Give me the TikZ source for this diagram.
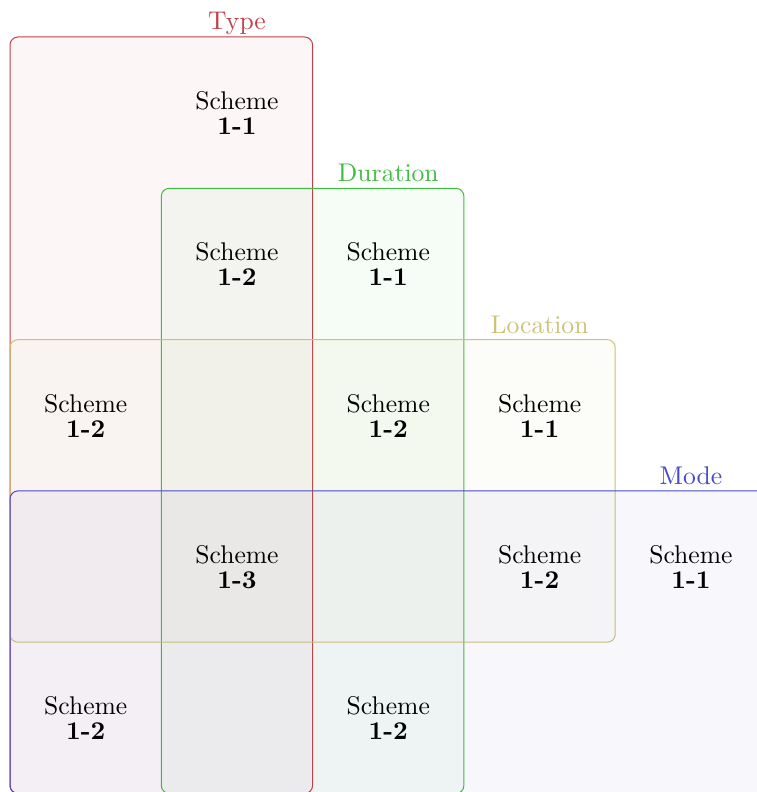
\documentclass[tikz,border=0pt]{standalone}
\definecolor{typeC}{RGB}{196,64,72}
\definecolor{durC}{RGB}{64,190,64}
\definecolor{locC}{RGB}{204,194,120}
\definecolor{modeC}{RGB}{72,72,204}
\begin{document}
\begin{tikzpicture}[x=1pt,y=-1pt,
  setbox/.style={draw=#1, fill=#1, fill opacity=0.045, rounded corners=8pt, line width=1pt},
  setlabel/.style={text=#1, anchor=base, inner sep=0pt, scale=2.56, transform shape, font=\fontsize{10}{9.8}\selectfont},
  cellText/.style={align=center, inner sep=0pt, scale=2.56, transform shape, font=\fontsize{10}{9.8}\selectfont}]
\useasboundingbox (0,0) rectangle (757,792);
\fill[white] (0,0) rectangle (757,792);
\clip (0,0) rectangle (757,792);
% set regions
\draw[setbox=typeC] (10,37) rectangle (312.6,793.5);
\draw[setbox=durC] (161.3,188.3) rectangle (463.9,793.5);
\draw[setbox=locC] (10,339.6) rectangle (615.2,642.2);
\draw[setbox=modeC] (10,490.9) rectangle (766.5,793.5);
% labels
\node[setlabel=typeC] (typeLbl) at (237,29.5) {Type};
\node[setlabel=durC] (durLbl) at (388.3,181) {Duration};
\node[setlabel=locC] (locLbl) at (539.6,333) {Location};
\node[setlabel=modeC] (modeLbl) at (690.9,484) {Mode};
% cells
\node[cellText] (c12) at (237,113) {Scheme\\\textbf{1-1}};
\node[cellText] (c22) at (237,264.3) {Scheme\\\textbf{1-2}};
\node[cellText] (c23) at (388.3,264.3) {Scheme\\\textbf{1-1}};
\node[cellText] (c31) at (85.7,415.6) {Scheme\\\textbf{1-2}};
\node[cellText] (c33) at (388.3,415.6) {Scheme\\\textbf{1-2}};
\node[cellText] (c34) at (539.6,415.6) {Scheme\\\textbf{1-1}};
\node[cellText] (c42) at (237,566.9) {Scheme\\\textbf{1-3}};
\node[cellText] (c44) at (539.6,566.9) {Scheme\\\textbf{1-2}};
\node[cellText] (c45) at (690.9,566.9) {Scheme\\\textbf{1-1}};
\node[cellText] (c51) at (85.7,718.2) {Scheme\\\textbf{1-2}};
\node[cellText] (c53) at (388.3,718.2) {Scheme\\\textbf{1-2}};
\end{tikzpicture}
\end{document}
